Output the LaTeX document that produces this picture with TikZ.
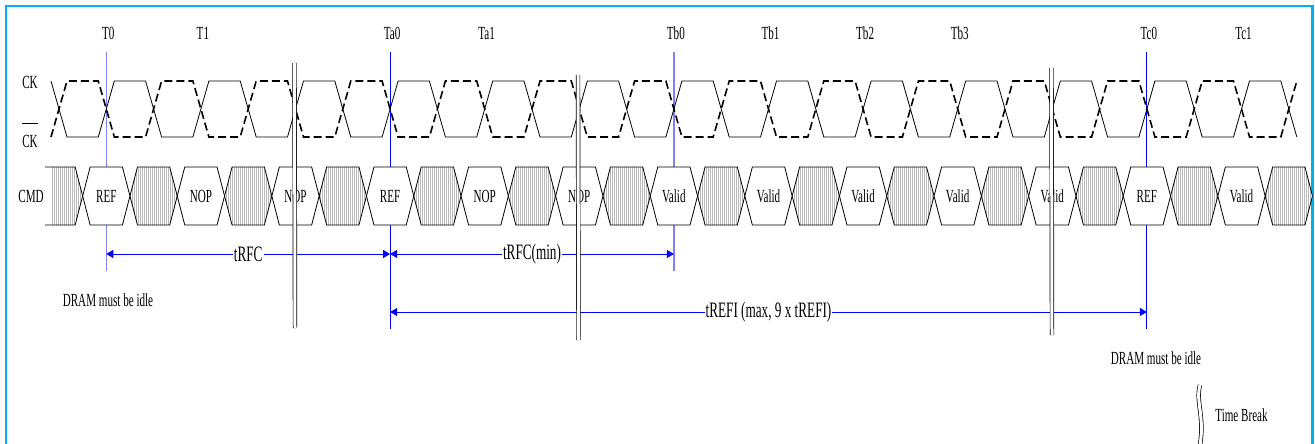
\documentclass[tikz,border=0pt]{standalone}
\usepackage{fontspec}
\setmainfont{Liberation Serif}[FakeStretch=0.6]
\usetikzlibrary{arrows.meta}
\usetikzlibrary{patterns.meta}
\usetikzlibrary{calc}

\definecolor{framecyan}{RGB}{0,176,240}
\definecolor{markblue}{RGB}{0,0,255}
\definecolor{softblue}{RGB}{128,128,255}

\tikzset{
  sig/.style={line width=0.8pt},
  sigb/.style={line width=1.6pt, dash pattern=on 8pt off 4pt},
  cellbox/.style={draw, line width=0.8pt, fill=white},
  dontcare/.style={draw, line width=0.8pt, preaction={fill=white},
    pattern={Lines[angle=90,distance=2pt,line width=0.7pt]}, pattern color=gray!55},
  tick/.style={markblue, line width=1pt},
  softtick/.style={softblue, line width=1.4pt},
  span/.style={markblue, line width=1pt, {Triangle[length=7pt,width=8pt]}-{Triangle[length=7pt,width=8pt]}},
  brk/.style={double, double distance=3pt, line width=0.7pt},
  lbl/.style={font=\fontsize{18.5pt}{20pt}\selectfont, inner sep=1pt, text=black},
  spanlbl/.style={lbl, font=\fontsize{22pt}{24pt}\selectfont, fill=white},
}

\begin{document}
\begin{tikzpicture}[x=1pt,y=-1pt]
  \useasboundingbox (0,0) rectangle (1315,444);
  \draw[framecyan, line width=2.5pt] (6,460) -- (6,6) -- (1312.5,6) -- (1312.5,460);

  % time markers
  \coordinate (T0top) at (106.3,52);   \coordinate (T0bot) at (106.3,271);
  \coordinate (Ta0top) at (390.1,52);  \coordinate (Ta0bot) at (390.1,329);
  \coordinate (Tb0top) at (673.9,52);  \coordinate (Tb0bot) at (673.9,271);
  \coordinate (Tc0top) at (1146.9,52); \coordinate (Tc0bot) at (1146.9,329);
  \draw[softtick] (T0top) -- (T0bot);
  \draw[tick] (Ta0top) -- (Ta0bot);
  \draw[softtick] (Tb0top) -- (Tb0bot);
  \draw[tick] (Tc0top) -- (Tc0bot);

  % CK and CK#
  \draw[sig] (51,81) \foreach \k [evaluate=\k as \x using {59+47.3*\k},
      evaluate=\k as \a using {ifthenelse(mod(\k,2)==0,81,137)}] in {0,...,26}
      { -- (\x-8,\a) -- (\x+8,218-\a) };
  \draw[sigb] (51,137) \foreach \k [evaluate=\k as \x using {59+47.3*\k},
      evaluate=\k as \a using {ifthenelse(mod(\k,2)==0,81,137)}] in {0,...,26}
      { -- (\x-8,218-\a) -- (\x+8,\a) };

  % CMD
  \path[pattern={Lines[angle=90,distance=2pt,line width=0.7pt]}, pattern color=gray!55]
    (51,167) -- (75.15,167) -- (82.65,196) -- (75.15,225) -- (51,225) -- cycle;
  \draw[sig] (45,167) -- (75.15,167) -- (82.65,196) -- (75.15,225) -- (45,225);
  \foreach \k [evaluate=\k as \x using {59+47.3*\k}] in {2,4,...,26}
    \draw[dontcare] (\x-23.65,196) -- (\x-16.15,167) -- (\x+16.15,167) -- (\x+23.65,196)
      -- (\x+16.15,225) -- (\x-16.15,225) -- cycle;
  \foreach \k/\word in {1/REF,3/NOP,5/NOP,7/REF,9/NOP,11/NOP,13/Valid,15/Valid,
      17/Valid,19/Valid,21/Valid,23/REF,25/Valid} {
    \pgfmathsetmacro\x{59+47.3*\k}
    \draw[cellbox] (\x-23.65,196) -- (\x-16.15,167) -- (\x+16.15,167) -- (\x+23.65,196)
      -- (\x+16.15,225) -- (\x-16.15,225) -- cycle;
    \node[lbl] (cmd\k) at (\x,196) {\word};
  }

  % labels
  \foreach \k/\name in {1/T0,3/T1,7/Ta0,9/Ta1,13/Tb0,15/Tb1,17/Tb2,19/Tb3,23/Tc0,25/Tc1}
    \node[lbl] (\name) at ({61+47.3*\k},33) {\name};
  \node[lbl] (ck) at (30,82) {CK};
  \node[lbl, anchor=base] (ckn) at (30,147) {\makebox[0pt][l]{\rule[23pt]{16pt}{0.8pt}}CK};
  \node[lbl] (cmd) at (31,196) {CMD};

  % timings
  \coordinate (rfcA) at (106.3,254);
  \coordinate (rfcB) at (390.1,254);
  \coordinate (rfcC) at (673.9,254);
  \coordinate (refiA) at (390.1,312);
  \coordinate (refiB) at (1146.9,312);
  \draw[span] (rfcA) -- node[spanlbl] (trfc) {tRFC} (rfcB);
  \draw[span] (rfcB) -- node[spanlbl] (trfcmin) {tRFC(min)} (rfcC);
  \draw[span] (refiA) -- node[spanlbl] (trefi) {tREFI (max, 9 x tREFI)} (refiB);
  \node[lbl] (idleA) at (108,300) {DRAM must be idle};
  \node[lbl] (idleB) at (1156,358) {DRAM must be idle};

  % time breaks
  \coordinate (brkAtop) at (294.5,63);   \coordinate (brkAbot) at (295,328);
  \coordinate (brkBtop) at (578,75);     \coordinate (brkBbot) at (578.5,340);
  \coordinate (brkCtop) at (1051.5,68);  \coordinate (brkCbot) at (1052,335);
  \draw[brk] (brkAtop) -- (brkAbot);
  \draw[brk] (brkBtop) -- (brkBbot);
  \draw[brk] (brkCtop) -- (brkCbot);
  \coordinate (keytop) at (1200,385);
  \coordinate (keybot) at (1199,450);
  \draw[brk] (keytop) .. controls (1195,402) and (1206,418) .. (keybot);
  \node[lbl] (tbreak) at (1241.5,415) {Time Break};
\end{tikzpicture}
\end{document}
